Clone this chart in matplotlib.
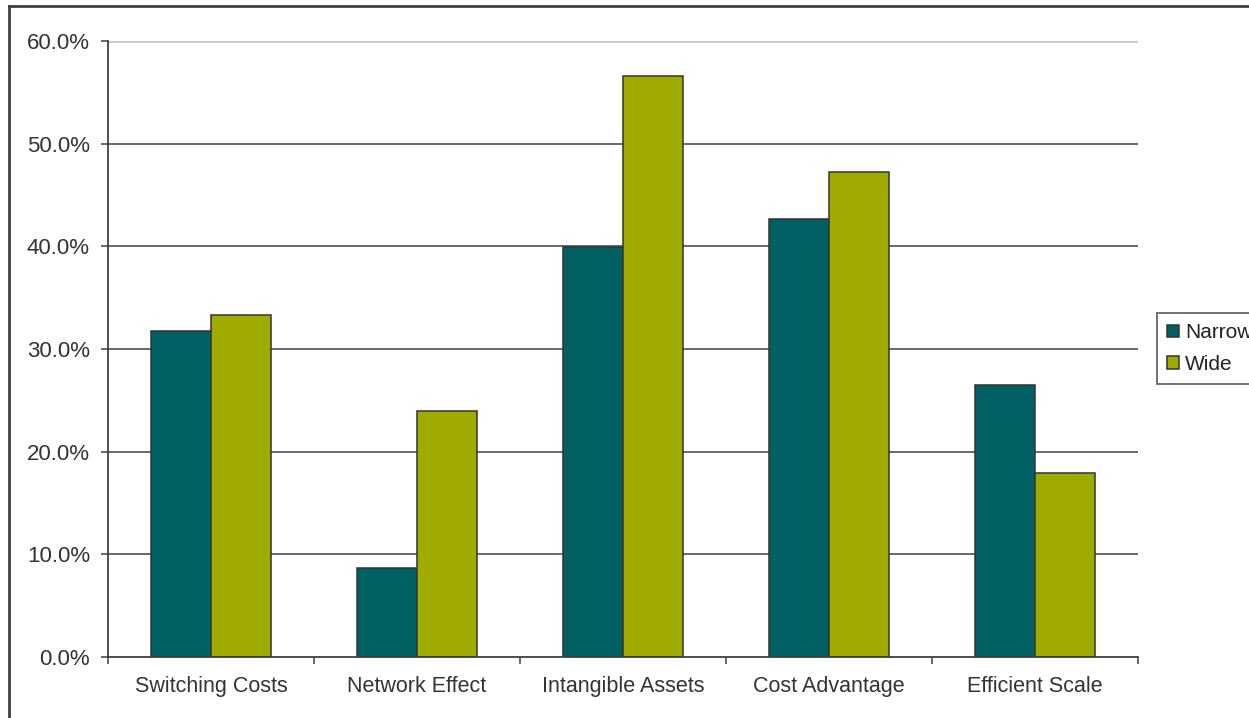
import matplotlib
matplotlib.use("Agg")
import matplotlib.pyplot as plt
from matplotlib.lines import Line2D
import numpy as np

categories = ["Switching Costs", "Network Effect", "Intangible Assets", "Cost Advantage", "Efficient Scale"]
narrow = [31.8, 8.7, 39.9, 42.7, 26.5]
wide = [33.3, 24.0, 56.6, 47.2, 17.9]
series_names = ["Narrow", "Wide"]
y_ticks = [0, 10, 20, 30, 40, 50, 60]

plt.rcParams['font.family'] = ['Liberation Sans', 'DejaVu Sans']

W, H = 1249, 718
fig = plt.figure(figsize=(W / 100, H / 100), dpi=100)
ax = fig.add_axes([108 / W, 1 - 657 / H, (1138 - 108) / W, (657 - 41) / H])

dark = "#404040"
c_narrow = "#006064"
c_wide = "#A0AB00"
x = np.arange(len(categories))
bw = 0.29
ax.bar(x - bw / 2, narrow, bw, color=c_narrow, edgecolor="#333333", linewidth=1.1, zorder=3, label=series_names[0])
ax.bar(x + bw / 2, wide, bw, color=c_wide, edgecolor="#333333", linewidth=1.1, zorder=3, label=series_names[1])

ax.set_xlim(-0.5, len(categories) - 0.5)
ax.set_ylim(0, 60)
ax.set_yticks(y_ticks)
ax.set_yticklabels([f"{v:.1f}%" for v in y_ticks])
for v in y_ticks[1:-1]:
    ax.axhline(v, color=dark, linewidth=1.1, zorder=1)
ax.axhline(60, color="#c8c8c8", linewidth=2, zorder=1)

ax.set_xticks(np.arange(len(categories) + 1) - 0.5)
ax.set_xticklabels([])
ax.set_xticks(x, minor=True)
ax.set_xticklabels(categories, minor=True)
ax.tick_params(axis='x', which='major', length=5, width=1.1, color=dark, direction='out')
ax.tick_params(axis='x', which='minor', length=0, pad=14, labelsize=15.5, labelcolor="#333333")
ax.tick_params(axis='y', length=5, width=1.1, color=dark, direction='out', pad=8, labelsize=16, labelcolor="#333333")

for s in ["top", "right"]:
    ax.spines[s].set_visible(False)
for s in ["left", "bottom"]:
    ax.spines[s].set_color(dark)
    ax.spines[s].set_linewidth(1.3)
    ax.spines[s].set_zorder(4)

handles = [plt.Rectangle((0, 0), 1, 1, facecolor=c_narrow, edgecolor="#333333", linewidth=1.1),
           plt.Rectangle((0, 0), 1, 1, facecolor=c_wide, edgecolor="#333333", linewidth=1.1)]
leg = fig.legend(handles, series_names, loc="upper left", bbox_to_anchor=(1157 / W, 1 - 313 / H),
                 frameon=True, fancybox=False, shadow=False, fontsize=15,
                 handlelength=0.55, handleheight=0.55, handletextpad=0.3,
                 labelspacing=0.6, borderpad=0.5, borderaxespad=0)
leg.get_frame().set_edgecolor(dark)
leg.get_frame().set_linewidth(1.3)
for t in leg.get_texts():
    t.set_color("#222222")

# outer chart frame (left and top edges visible)
fig.add_artist(Line2D([9 / W, 9 / W], [-0.05, 1 - 6 / H], transform=fig.transFigure, color=dark, linewidth=2))
fig.add_artist(Line2D([9 / W, 1.05], [1 - 6 / H, 1 - 6 / H], transform=fig.transFigure, color=dark, linewidth=2))

fig.savefig("out.png", dpi=100)
